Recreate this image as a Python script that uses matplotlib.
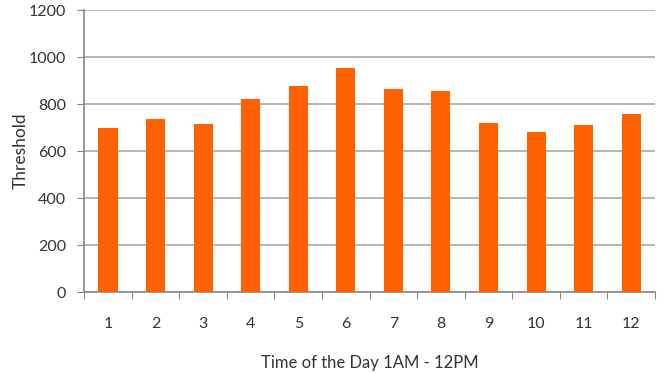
import matplotlib
matplotlib.use("Agg")
import matplotlib.pyplot as plt
import numpy as np

hours = ["1", "2", "3", "4", "5", "6", "7", "8", "9", "10", "11", "12"]
threshold = [700, 735, 715, 820, 875, 952, 865, 855, 720, 680, 710, 757]

plt.rcParams["font.family"] = ["Lato", "DejaVu Sans"]

fig = plt.figure(figsize=(6.63, 3.73), dpi=100)
ax = fig.add_axes([0.127, 0.217, 0.861, 0.756])

x = np.arange(len(hours))
ax.bar(x, threshold, width=0.4, color="#FF6000", zorder=3)

ax.set_xlim(-0.5, len(hours) - 0.5)
ax.set_ylim(0, 1200)
ax.set_yticks(np.arange(0, 1201, 200))
ax.yaxis.grid(True, color="#a8a8a8", linewidth=1.2, zorder=0)

# category boundaries carry the tick marks, labels sit at bar centres
ax.set_xticks(np.arange(-0.5, len(hours), 1.0))
ax.set_xticklabels([])
ax.set_xticks(x, minor=True)
ax.set_xticklabels(hours, minor=True)
ax.tick_params(axis="x", which="major", length=5, color="#888888", direction="out")
ax.tick_params(axis="x", which="minor", length=0, pad=18, labelsize=11.5, labelcolor="#333333")
ax.tick_params(axis="y", length=5, color="#888888", labelsize=11.5, labelcolor="#333333", pad=8)

for s in ("top", "right"):
    ax.spines[s].set_visible(False)
for s in ("left", "bottom"):
    ax.spines[s].set_color("#888888")
    ax.spines[s].set_linewidth(1.2)

ax.set_ylabel("Threshold", fontsize=12.5, color="#333333")
ax.yaxis.set_label_coords(-0.097, 0.5)
ax.set_xlabel("Time of the Day 1AM - 12PM", fontsize=12, color="#333333", labelpad=17)

fig.savefig("out.png", dpi=100)
